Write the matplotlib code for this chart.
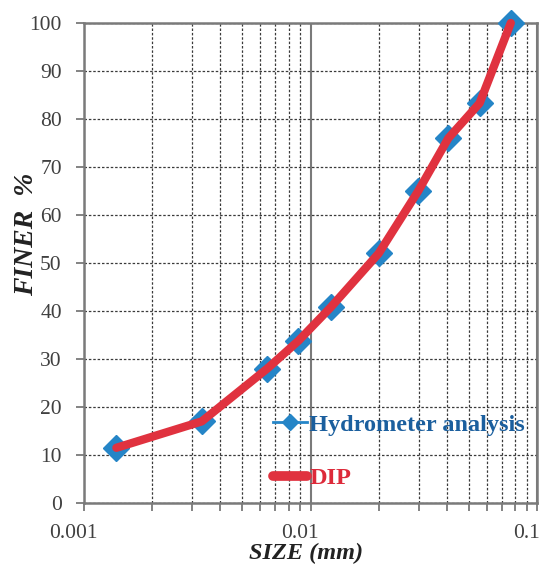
import matplotlib
matplotlib.use("Agg")
import matplotlib.pyplot as plt
import matplotlib.transforms as mtrans
from matplotlib.lines import Line2D
from matplotlib.ticker import LogLocator, NullFormatter, FixedLocator, FixedFormatter

# data
size_mm = [0.00139, 0.00331, 0.00644, 0.00885, 0.0123, 0.0200, 0.0299, 0.0406, 0.0558, 0.0766]
finer_hydro = [11.5, 17.0, 28.0, 33.8, 40.8, 52.0, 65.0, 76.0, 83.3, 100.0]
finer_dip = [11.5, 17.0, 28.0, 33.8, 40.8, 52.0, 65.0, 76.0, 83.3, 100.0]
yticks = [0, 10, 20, 30, 40, 50, 60, 70, 80, 90, 100]
xticks = [0.001, 0.01, 0.1]
xtick_labels = ["0.001", "0.01", "0.1"]

blue = "#2585c7"
red = "#e0323f"

plt.rcParams["font.family"] = ["Liberation Serif", "DejaVu Serif"]

fig = plt.figure(figsize=(5.45, 5.69), dpi=100)
ax = fig.add_axes([84 / 545, 1 - 503 / 569, 453 / 545, 480 / 569])

ax.plot(size_mm, finer_hydro, color=blue, lw=2, marker="D", ms=13,
        zorder=3, clip_on=False, label="Hydrometer analysis")
ax.plot(size_mm, finer_dip, color=red, lw=6, solid_joinstyle="round",
        solid_capstyle="round", zorder=4, clip_on=False, label="DIP")

ax.set_xscale("log")
ax.set_xlim(0.001, 0.1)
ax.set_ylim(0, 100)
ax.xaxis.set_major_locator(FixedLocator(xticks))
ax.xaxis.set_major_formatter(FixedFormatter(xtick_labels))
ax.xaxis.set_minor_locator(LogLocator(base=10, subs=range(2, 10)))
ax.xaxis.set_minor_formatter(NullFormatter())
ax.set_yticks(yticks)

ax.grid(True, which="major", axis="x", color="#7a7a7a", lw=1.5, ls="-")
ax.grid(True, which="minor", axis="x", color="#3a3a3a", lw=0.9, ls=(0, (2, 1.5)))
ax.grid(True, which="major", axis="y", color="#3a3a3a", lw=0.9, ls=(0, (2, 1.5)))
ax.set_axisbelow(True)

for s in ax.spines.values():
    s.set_color("#7a7a7a")
    s.set_linewidth(1.8)

ax.tick_params(axis="both", which="both", direction="out", length=6,
               width=1.3, color="#7a7a7a", labelsize=15.5, labelcolor="#404040")
ax.tick_params(axis="y", pad=10)
ax.tick_params(axis="x", pad=9)

# x tick labels sit a bit to the left of their ticks in the original
shift = mtrans.ScaledTranslation(-11 / 100, 0, fig.dpi_scale_trans)
for lab in ax.get_xticklabels():
    lab.set_transform(lab.get_transform() + shift)

ax.set_xlabel("SIZE (mm)", fontsize=17.5, fontweight="bold", fontstyle="italic",
              color="#222222")
ax.set_ylabel("FINER  %", fontsize=20, fontweight="bold", fontstyle="italic",
              color="#222222")
ax.xaxis.set_label_coords(0.49, -0.083)
ax.yaxis.set_label_coords(-0.1, 0.56)

handles = [Line2D([], [], color=blue, lw=2, marker="D", ms=8),
           Line2D([], [], color=red, lw=7, solid_capstyle="round")]
leg = ax.legend(handles, ["Hydrometer analysis", "DIP"], loc="upper left",
                bbox_to_anchor=(0.39, 0.211), frameon=False, handlelength=1.4,
                handletextpad=0.1, labelspacing=1.3, borderpad=0,
                prop={"size": 17.5, "weight": "bold"},
                labelcolor=["#1b5f9e", "#dd2a3a"])

fig.savefig("out.png", dpi=100)
